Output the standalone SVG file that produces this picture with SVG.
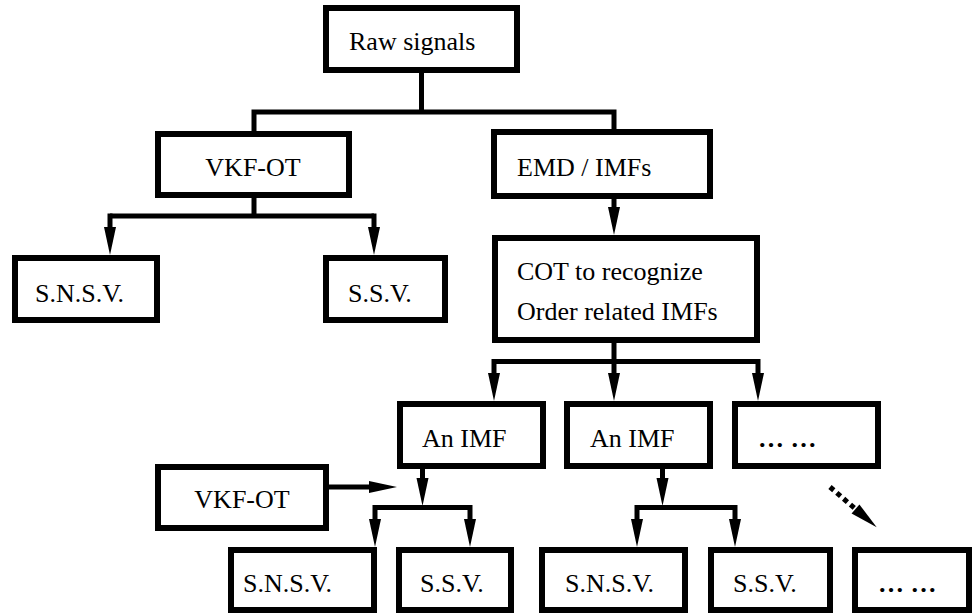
<svg xmlns="http://www.w3.org/2000/svg" width="974" height="614" viewBox="0 0 974 614">
<style>
.box{fill:#fff;stroke:#000;stroke-width:6}
text{font-family:'Liberation Serif','Tinos','Times New Roman','DejaVu Serif',serif;font-size:26px;fill:#000}
.c{fill:none;stroke:#000;stroke-width:5}
.a{fill:none;stroke:#000;stroke-width:5;marker-end:url(#ah)}
.d{fill:none;stroke:#000;stroke-width:5;stroke-dasharray:5 4;marker-end:url(#ah)}
</style>
<defs>
<marker id="ah" markerUnits="userSpaceOnUse" markerWidth="30" markerHeight="14" refX="0" refY="6" orient="auto" overflow="visible">
<path d="M0,0 L28,6 L0,12 Z" fill="#000"/>
</marker>
</defs>
<rect width="974" height="614" fill="#fff"/>
<g id="connectors">
<path class="c" d="M421.5,73 V112 M254,112 H614 M254,109.5 V131 M614,109.5 V130"/>
<path class="a" d="M614,199 V207"/>
<path class="c" d="M254,198 V216 M110,216 H374"/>
<path class="a" d="M110,213.5 V227"/>
<path class="a" d="M374,213.5 V227"/>
<path class="c" d="M614,343 V361.5 M494,361.5 H758"/>
<path class="a" d="M494,359 V373"/>
<path class="a" d="M614,359 V373"/>
<path class="a" d="M758,359 V373"/>
<path class="a" d="M422.5,469 V478"/>
<path class="c" d="M375,507.5 H470"/>
<path class="a" d="M375,505 V519"/>
<path class="a" d="M470,505 V519"/>
<path class="a" d="M662.5,469 V478"/>
<path class="c" d="M637,507.5 H735"/>
<path class="a" d="M637,505 V519"/>
<path class="a" d="M735,505 V519"/>
<path class="a" d="M329,487 H369"/>
<path class="d" d="M830,487 L855.5,509"/>
</g>
<g id="raw"><rect class="box" x="326" y="8" width="191" height="62"/><text font-family="Liberation Serif, serif" x="349" y="50">Raw signals</text></g>
<g id="vkf1"><rect class="box" x="158" y="134" width="191" height="61"/><text x="253" y="176" text-anchor="middle">VKF-OT</text></g>
<g id="emd"><rect class="box" x="494" y="132" width="216" height="64"/><text x="517" y="176">EMD / IMFs</text></g>
<g id="snsv1"><rect class="box" x="15" y="258" width="142" height="62"/><text x="35" y="302">S.N.S.V.</text></g>
<g id="ssv1"><rect class="box" x="326" y="258" width="119" height="62"/><text x="348" y="302">S.S.V.</text></g>
<g id="cot"><rect class="box" x="495" y="238" width="262" height="102"/><text x="517" y="280">COT to recognize</text><text x="517" y="320">Order related IMFs</text></g>
<g id="imf1"><rect class="box" x="400" y="404" width="143" height="62"/><text x="422" y="447">An IMF</text></g>
<g id="imf2"><rect class="box" x="567" y="404" width="143" height="62"/><text x="590" y="447">An IMF</text></g>
<g id="more1"><rect class="box" x="735" y="404" width="143" height="62"/><text x="758" y="447" font-weight="bold">… …</text></g>
<g id="vkf2"><rect class="box" x="158" y="467" width="168" height="61"/><text x="242" y="508" text-anchor="middle">VKF-OT</text></g>
<g id="snsv2"><rect class="box" x="231" y="550" width="143" height="60"/><text x="243" y="592">S.N.S.V.</text></g>
<g id="ssv2"><rect class="box" x="399" y="550" width="112" height="60"/><text x="420" y="592">S.S.V.</text></g>
<g id="snsv3"><rect class="box" x="542" y="550" width="143" height="60"/><text x="565" y="592">S.N.S.V.</text></g>
<g id="ssv3"><rect class="box" x="711" y="550" width="119" height="60"/><text x="733" y="592">S.S.V.</text></g>
<g id="more2"><rect class="box" x="855" y="550" width="114" height="60"/><text x="878" y="592" font-weight="bold">… …</text></g>
</svg>
